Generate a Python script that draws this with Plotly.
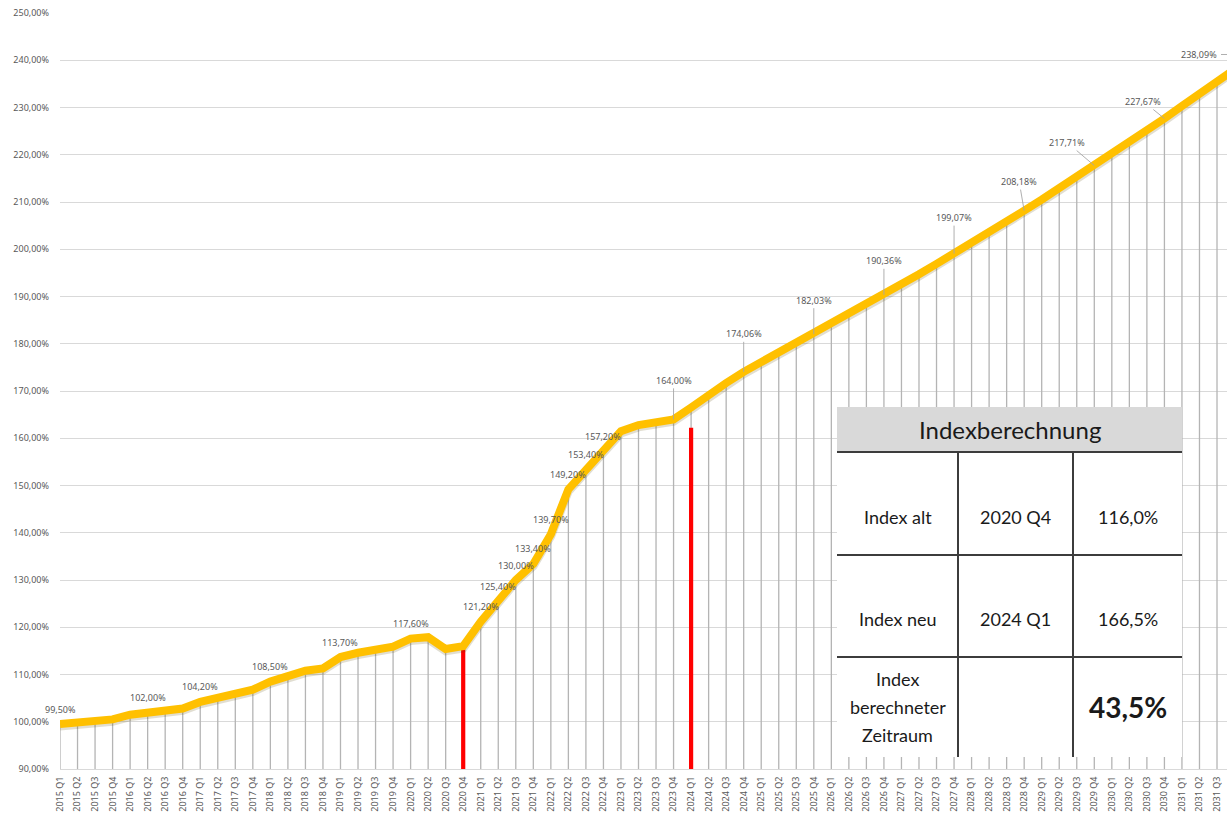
import plotly.graph_objects as go

# ---------------- data ----------------
years = list(range(2015, 2032))
quarters = [f"{y} Q{q}" for y in years for q in range(1, 5)]  # 2015 Q1 .. 2031 Q4

index_values = [
    99.5, 99.8, 100.2, 100.5,        # 2015
    101.5, 102.0, 102.6, 102.8,      # 2016
    104.2, 105.1, 106.0, 106.8,      # 2017
    108.5, 109.6, 110.8, 111.3,      # 2018
    113.7, 114.6, 115.4, 115.9,      # 2019
    117.6, 117.9, 115.4, 116.0,      # 2020
    121.2, 125.4, 130.0, 133.4,      # 2021
    139.7, 149.2, 153.4, 157.2,      # 2022
    161.5, 162.8, 163.3, 164.0,      # 2023
    166.5, 169.2, 171.7, 174.06,     # 2024
    176.1, 178.1, 180.0, 182.03,     # 2025
    184.1, 186.2, 188.3, 190.36,     # 2026
    192.5, 194.7, 196.9, 199.07,     # 2027
    201.3, 203.6, 205.9, 208.18,     # 2028
    210.5, 212.9, 215.3, 217.71,     # 2029
    220.2, 222.7, 225.2, 227.67,     # 2030
    230.3, 232.9, 235.5, 238.09,     # 2031
]

# quarters carrying a data label
labelled_near = ["2015 Q1", "2016 Q2", "2017 Q1", "2018 Q1", "2019 Q1", "2020 Q1",
                 "2021 Q1", "2021 Q2", "2021 Q3", "2021 Q4",
                 "2022 Q1", "2022 Q2", "2022 Q3", "2022 Q4"]
labelled_leader = ["2023 Q4", "2024 Q4", "2025 Q4", "2026 Q4", "2027 Q4",
                   "2028 Q4", "2029 Q4", "2030 Q4"]
labelled_offscreen = ["2031 Q4"]

# red markers
red_quarters = ["2020 Q4", "2024 Q1"]
red_values = [115.3, 162.2]

# table content
table_title = "Indexberechnung"
table_rows = [
    ["Index alt", "2020 Q4", "116,0%"],
    ["Index neu", "2024 Q1", "166,5%"],
    ["Index<br>berechneter<br>Zeitraum", "", "43,5%"],
]

y_min, y_max = 90, 250

# ---------------- styles ----------------
W, H = 1227, 813
ML, MR, MT, MB = 60, 0, 13, 44
PW, PH = W - ML - MR, H - MT - MB
GRAY_TXT = "#595959"
FONT = "Noto Sans"
TFONT = "Lato"
LINE_GAP = 28
leader_offsets = {  # (ax, ay) in px
    "2023 Q4": (0, -39), "2024 Q4": (0, -38), "2025 Q4": (0, -34),
    "2026 Q4": (0, -34), "2027 Q4": (0, -36), "2028 Q4": (-5, -29),
    "2029 Q4": (-27, -23), "2030 Q4": (-21, -17),
}


def fmt(v):
    return f"{v:.2f}%".replace(".", ",")


def px(xp):
    return (xp - ML) / PW


def py(yp):
    return (H - MB - yp) / PH


val = dict(zip(quarters, index_values))

fig = go.Figure()

# drop lines from each point to the axis
fig.add_trace(go.Scatter(
    x=quarters, y=index_values, mode="markers",
    marker=dict(size=1, color="rgba(0,0,0,0)"),
    error_y=dict(type="data", symmetric=False,
                 array=[0] * len(index_values),
                 arrayminus=[v - y_min for v in index_values],
                 color="#b4b4b4", thickness=1.3, width=0),
    hoverinfo="skip", showlegend=False,
))

# red marker bars
fig.add_trace(go.Scatter(
    x=red_quarters, y=red_values, mode="markers",
    marker=dict(size=1, color="rgba(0,0,0,0)"),
    error_y=dict(type="data", symmetric=False,
                 array=[0] * len(red_values),
                 arrayminus=[v - y_min for v in red_values],
                 color="#ff0000", thickness=4.2, width=0),
    hoverinfo="skip", showlegend=False,
))

# soft shadow of the line
fig.add_trace(go.Scatter(
    x=quarters, y=[v - 0.45 for v in index_values], mode="lines",
    line=dict(color="rgba(90,70,0,0.18)", width=8.5),
    hoverinfo="skip", showlegend=False,
))

# main index line
fig.add_trace(go.Scatter(
    x=quarters, y=index_values, mode="lines",
    line=dict(color="#FFC000", width=8),
    showlegend=False,
))

annotations = []
for q in labelled_near:
    annotations.append(dict(
        x=q, y=val[q], xref="x", yref="y", text=fmt(val[q]), showarrow=False,
        xanchor="center", yanchor="middle",
        yshift=15, font=dict(family=FONT, size=9, color=GRAY_TXT),
    ))
for q in labelled_leader:
    ax, ay = leader_offsets[q]
    annotations.append(dict(
        x=q, y=val[q], xref="x", yref="y", text=fmt(val[q]), showarrow=True,
        ax=ax, ay=ay, arrowhead=0, arrowwidth=0.9, arrowcolor="#a6a6a6",
        font=dict(family=FONT, size=9, color=GRAY_TXT),
    ))
for q in labelled_offscreen:
    annotations.append(dict(
        x=px(1199), y=py(54.5), xref="paper", yref="paper", text=fmt(val[q]),
        xanchor="center", yanchor="middle",
        showarrow=False, font=dict(family=FONT, size=9, color=GRAY_TXT),
    ))

# ---------------- table ----------------
TL, TR, TT, THB, TB = 837, 1182, 407, 452, 757
row_lines = [555, 657]
col_lines = [958, 1073]
col_edges = [TL] + col_lines + [TR]
row_edges = [THB] + row_lines + [TB]
DARK = "#3c3c3c"

shapes = [
    dict(type="rect", xref="paper", yref="paper", x0=px(TL), x1=px(TR), y0=py(THB), y1=py(TT),
         fillcolor="#D9D9D9", line=dict(width=0), layer="above"),
    dict(type="rect", xref="paper", yref="paper", x0=px(TL), x1=px(TR), y0=py(TB), y1=py(THB),
         fillcolor="white", line=dict(width=0), layer="above"),
]
for yl in [THB] + row_lines:
    shapes.append(dict(type="line", xref="paper", yref="paper", x0=px(TL), x1=px(TR),
                       y0=py(yl), y1=py(yl), line=dict(color=DARK, width=2), layer="above"))
for xl in col_lines:
    shapes.append(dict(type="line", xref="paper", yref="paper", x0=px(xl), x1=px(xl),
                       y0=py(THB), y1=py(TB), line=dict(color=DARK, width=2), layer="above"))
# leader stub of the off-screen label
shapes.append(dict(type="line", xref="paper", yref="paper", x0=px(1221), x1=px(1227),
                   y0=py(54.5), y1=py(54.5), line=dict(color="#a6a6a6", width=0.9), layer="above"))

annotations.append(dict(
    x=px((TL + TR) / 2), y=py((TT + THB) / 2), xref="paper", yref="paper",
    xanchor="center", yanchor="middle",
    text=table_title, showarrow=False, font=dict(family=TFONT, size=24, color="#1a1a1a"),
))
row_text_shift = [13, 13, 0]
for r, row in enumerate(table_rows):
    yc = (row_edges[r] + row_edges[r + 1]) / 2 + row_text_shift[r]
    for c, txt in enumerate(row):
        if not txt:
            continue
        xc = (col_edges[c] + col_edges[c + 1]) / 2
        bold = (r == 2 and c == 2)
        parts = txt.split("<br>")
        n = len(parts)
        for k, part in enumerate(parts):
            ylc = yc + (k - (n - 1) / 2) * LINE_GAP
            annotations.append(dict(
                x=px(xc), y=py(ylc), xref="paper", yref="paper",
                xanchor="center", yanchor="middle",
                text=f"<b>{part}</b>" if bold else part, showarrow=False,
                font=dict(family=TFONT, size=28 if bold else 18, color="#1a1a1a"),
                align="center",
            ))

fig.update_layout(
    width=W, height=H,
    margin=dict(l=ML, r=MR, t=MT, b=MB),
    paper_bgcolor="white", plot_bgcolor="white",
    separators=",.",
    showlegend=False,
    xaxis=dict(
        type="category", categoryorder="array", categoryarray=quarters,
        range=[0, 66.57], showgrid=False, zeroline=False,
        showline=True, linecolor="#d9d9d9", linewidth=1,
        tickangle=-90, tickfont=dict(family=FONT, size=9, color=GRAY_TXT),
        ticks="", ticklabelstandoff=3,
    ),
    yaxis=dict(
        range=[y_min, y_max], dtick=10, tickformat=".2f", ticksuffix="%",
        showgrid=True, gridcolor="#d9d9d9", gridwidth=1, zeroline=False,
        tickfont=dict(family=FONT, size=9, color=GRAY_TXT),
        ticks="", ticklabelstandoff=10,
    ),
    shapes=shapes,
    annotations=annotations,
)

fig.write_html("out.html", config={"displayModeBar": False},
               post_script="document.body.style.margin='0';")
